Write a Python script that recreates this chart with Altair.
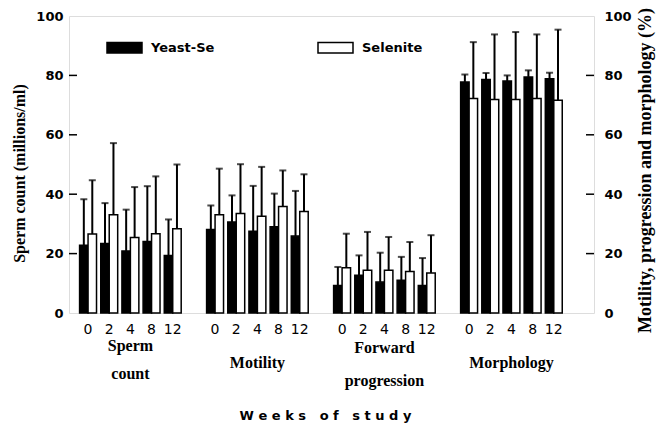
import altair as alt
import pandas as pd

groups = ["Sperm count", "Motility", "Forward progression", "Morphology"]
group_labels = ["Sperm\ncount", "Motility", "Forward\nprogression", "Morphology"]
weeks = ["0", "2", "4", "8", "12"]
treatments = ["Yeast-Se", "Selenite"]

yeast_mean = {
    "Sperm count": [22.8, 23.4, 20.9, 24.1, 19.4],
    "Motility": [28.1, 30.6, 27.5, 29.0, 25.9],
    "Forward progression": [9.3, 12.7, 10.4, 11.0, 9.3],
    "Morphology": [77.8, 78.6, 78.1, 79.5, 78.9],
}
yeast_sd = {
    "Sperm count": [15.5, 13.6, 13.9, 18.6, 12.1],
    "Motility": [8.1, 9.0, 15.3, 11.2, 15.2],
    "Forward progression": [6.2, 6.7, 9.9, 7.9, 9.2],
    "Morphology": [2.5, 2.2, 1.9, 2.2, 2.0],
}
selenite_mean = {
    "Sperm count": [26.6, 33.1, 25.4, 26.7, 28.4],
    "Motility": [33.1, 33.5, 32.6, 35.9, 34.2],
    "Forward progression": [15.2, 14.4, 14.4, 14.0, 13.5],
    "Morphology": [72.2, 71.9, 71.9, 72.2, 71.6],
}
selenite_sd = {
    "Sperm count": [18.1, 24.1, 17.0, 19.3, 21.6],
    "Motility": [15.5, 16.6, 16.6, 12.1, 12.5],
    "Forward progression": [11.5, 12.9, 11.2, 9.9, 12.7],
    "Morphology": [19.0, 21.9, 22.7, 21.6, 23.8],
}
y_ticks = [0, 20, 40, 60, 80, 100]
inner_ticks = [20, 40, 60, 80]

# ---- build tables ----
rows = []
domain = []
for gi, g in enumerate(groups):
    for wi, w in enumerate(weeks):
        key = f"{gi}|{w}"
        domain.append(key)
        for t, m, s in (("Yeast-Se", yeast_mean, yeast_sd), ("Selenite", selenite_mean, selenite_sd)):
            mv = m[g][wi]
            sv = s[g][wi]
            rows.append({"key": key, "treatment": t, "mean": mv, "upper": mv + sv})
    domain.append(f"{gi}|s")
df = pd.DataFrame(rows)

lab_df = pd.DataFrame({
    "key": [f"{gi}|4" for gi in range(len(groups))],
    "label": group_labels,
    "gi": list(range(len(groups))),
})
tick_df = pd.DataFrame({"v": inner_ticks})

SANS = "DejaVu Sans"
SERIF = "Liberation Serif"
NB = "\u00a0"

yscale = alt.Scale(domain=[0, 100], nice=False, zero=True)
xaxis = alt.Axis(
    labelExpr="indexof(datum.value, 's') >= 0 ? '' : split(datum.value, '|')[1]",
    labelAngle=0, labelOverlap=False, ticks=False, domain=False,
    labelFont=SANS, labelFontSize=14, labelFontWeight="normal", labelColor="black",
    labelPadding=9,
    title=f"W e e k s{NB}{NB}{NB}o f{NB}{NB}{NB}s t u d y", titleFont=SANS, titleFontSize=13,
    titleFontWeight="bold", titleColor="black",
    titleX=256, titleY=102, titleBaseline="middle", titleAlign="center",
)
xenc = alt.X("key:N", scale=alt.Scale(domain=domain, paddingInner=0.2, paddingOuter=0.5), axis=xaxis)
xoff = alt.XOffset("treatment:N", scale=alt.Scale(domain=treatments, paddingInner=0.0))

bars = alt.Chart(df).mark_bar(stroke="black", strokeWidth=1.5).encode(
    x=xenc,
    xOffset=xoff,
    y=alt.Y("mean:Q", scale=yscale, axis=alt.Axis(
        orient="left", values=y_ticks, ticks=False, domain=False, grid=False,
        labelFont=SANS, labelFontSize=13, labelFontWeight="bold", labelColor="black",
        labelPadding=6,
        title="Sperm count (millions/ml)", titleFont=SERIF, titleFontSize=16,
        titleFontWeight="bold", titleColor="black",
        titleX=-50, titleY=157, titleBaseline="middle", titleAlign="center",
    )),
    fill=alt.Fill("treatment:N", scale=alt.Scale(domain=treatments, range=["black", "white"]),
                  legend=alt.Legend(
                      title=None, orient="none", legendX=37, legendY=13, direction="horizontal",
                      symbolType="M-1,-0.3L1,-0.3L1,0.3L-1,0.3Z", symbolSize=1225,
                      symbolStrokeColor="black", symbolStrokeWidth=1.5,
                      labelFont=SANS, labelFontSize=13, labelFontWeight="bold", labelColor="black",
                      labelOffset=8, columnPadding=100, padding=0,
                  )),
)

err = alt.Chart(df).mark_rule(color="black", strokeWidth=2).encode(
    x=xenc, xOffset=xoff,
    y=alt.Y("mean:Q", scale=yscale, axis=None),
    y2="upper:Q",
)
caps = alt.Chart(df).mark_tick(color="black", thickness=2, size=7).encode(
    x=xenc, xOffset=xoff,
    y=alt.Y("upper:Q", scale=yscale, axis=None),
)
lticks = alt.Chart(tick_df).mark_rule(color="black", strokeWidth=1.5).encode(
    y=alt.Y("v:Q", scale=yscale, axis=None),
    x=alt.value(0), x2=alt.value(8),
)
rticks = alt.Chart(tick_df).mark_rule(color="black", strokeWidth=1.5).encode(
    y=alt.Y("v:Q", scale=yscale, axis=alt.Axis(
        orient="right", values=y_ticks, ticks=False, domain=False, grid=False,
        labelFont=SANS, labelFontSize=13, labelFontWeight="bold", labelColor="black",
        labelPadding=10,
        title="Motility, progression and morphology (%)", titleFont=SERIF, titleFontSize=18,
        titleFontWeight="bold", titleColor="black", titleAngle=270,
        titleX=51, titleY=154, titleBaseline="middle", titleAlign="center",
    )),
    x=alt.value(517), x2=alt.value(525),
)

label_style = dict(font=SERIF, fontSize=16, fontWeight="bold", color="black",
                   baseline="middle", align="center", lineBreak="\n")
lab_single = alt.Chart(lab_df).transform_filter("indexof(datum.label, '\\n') < 0").mark_text(
    **label_style).encode(x=xenc, y=alt.value(347), text="label:N")
lab_sperm = alt.Chart(lab_df).transform_filter("datum.gi == 0").mark_text(
    lineHeight=28, **label_style).encode(x=xenc, y=alt.value(330), text="label:N")
lab_fwd = alt.Chart(lab_df).transform_filter("datum.gi == 2").mark_text(
    lineHeight=33, **label_style).encode(x=xenc, y=alt.value(332), text="label:N")

chart = alt.layer(bars, err, caps, lticks, rticks, lab_single, lab_sperm, lab_fwd).resolve_scale(
    y="independent"
).properties(
    width=525, height=297,
    autosize=alt.AutoSizeParams(type="none"),
    padding={"left": 69, "top": 16, "right": 64, "bottom": 118},
).configure_view(stroke="black", strokeWidth=2).configure(background="white")

chart.save("out.html", embed_options={"renderer": "svg", "actions": False})
